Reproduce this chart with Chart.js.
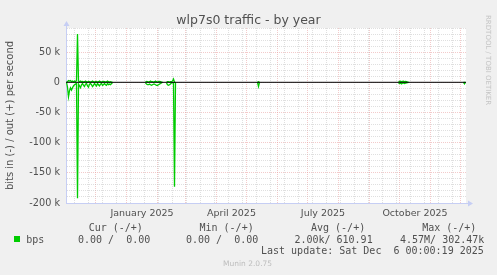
<!DOCTYPE html>
<html><head><meta charset="utf-8">
<script src="https://cdn.jsdelivr.net/npm/chart.js@4.4.1/dist/chart.umd.min.js"></script>
<style>
html,body{margin:0;padding:0;background:#f0f0f0;}
#wrap{position:relative;width:497px;height:275px;overflow:hidden;background:#f0f0f0;}
canvas{position:absolute;left:0;top:0;}
.m{position:absolute;white-space:pre;font-family:"DejaVu Sans Mono",monospace;font-size:10px;line-height:10px;color:#505050;}
#title{position:absolute;left:0;width:497px;top:12.2px;text-align:center;font-family:"DejaVu Sans",sans-serif;font-size:12.5px;line-height:15px;color:#505050;}
#rrd{position:absolute;left:484px;top:15px;writing-mode:vertical-rl;font-family:"DejaVu Sans",sans-serif;font-size:7px;line-height:7px;color:#c4c4c4;white-space:pre;}
#munin{position:absolute;left:223px;top:260.2px;font-family:"DejaVu Sans",sans-serif;font-size:7.5px;line-height:7.5px;color:#bdbdbd;white-space:pre;}
#swatch{position:absolute;left:14px;top:236px;width:6px;height:6px;background:#00cc00;}
</style></head>
<body>
<div id="wrap">
<canvas id="c" width="497" height="275"></canvas>
<div id="title">wlp7s0 traffic - by year</div>
<div id="rrd">RRDTOOL / TOBI OETIKER</div>
<div id="swatch"></div>
<div class="m" style="left:88.7px;top:223.1px">Cur (-/+)</div>
<div class="m" style="left:199.5px;top:223.1px">Min (-/+)</div>
<div class="m" style="left:311px;top:223.1px">Avg (-/+)</div>
<div class="m" style="left:422.2px;top:223.1px">Max (-/+)</div>
<div class="m" style="left:26.2px;top:234.5px">bps</div>
<div class="m" style="left:78px;top:234.5px">0.00 /  0.00</div>
<div class="m" style="left:186px;top:234.5px">0.00 /  0.00</div>
<div class="m" style="left:294.4px;top:234.5px">2.00k/ 610.91</div>
<div class="m" style="left:400px;top:234.5px">4.57M/ 302.47k</div>
<div class="m" style="left:261px;top:246.1px">Last update: Sat Dec  6 00:00:19 2025</div>
<div id="munin">Munin 2.0.75</div>
</div>
<script>
// day offsets relative to 1 Jan 2025
const days = [
  -60,-59,-58,-57,-56,-55,-54,-53,-52,-51,-50,-49,-48,-47,-46,-45,-44,-43,-42,-41,-40,-39,-38,-37,-36,-35,-34,-33,-32,-31,-30,-29,-28,-27,-26,-25,-24,-23,-22,-21,-20,-19,-18,-17,-16,-15,-14,
  -13,
  19,20,21,22,23,24,25,26,27,28,29,30,31,32,33,34,35,36,
  37,
  40,41,42,43,44,45,46,47,48,49,
  50,
  131,132,133,
  134,
  272,273,274,275,276,277,278,279,280,281,282,
  283,
  337,338,339
];
const bpsIn = [
  0,-8000,-24000,-14000,-9000,-13000,-9000,-6000,-4000,-3000,-2000,-192000,-3000,-6000,-9000,-4000,-2000,-5000,-7000,-3000,-2000,-6000,-8000,-3000,-2000,-4000,-7000,-5000,-2000,-4000,-6000,-2000,-4000,-6000,-3000,-2000,-5000,-4000,-2000,-4000,-5000,-2000,-4000,-3000,-4000,-2000,-1000,
  null,
  -1000,-3000,-4000,-4000,-3000,-4000,-5000,-4000,-3000,-3000,-4000,-5000,-5000,-4000,-3000,-2000,-1000,0,
  null,
  -1000,-4000,-5000,-4000,-3000,-1000,-500,-1000,-173000,0,
  null,
  0,-7000,0,
  null,
  -1000,-2000,-1000,-2500,-1500,-1000,-2000,-1500,-1000,-500,0,
  null,
  0,-2500,0
];
const bpsOut = [
  0,1000,3000,2000,3000,1000,2000,1000,2000,1000,3000,80000,2000,1000,2000,1000,1500,500,1000,2000,1000,500,1500,1000,500,1000,2000,1000,500,1000,1500,500,1000,2000,1000,500,1000,1500,1000,500,1000,2000,1000,500,1000,500,0,
  null,
  500,1500,1000,500,1000,2000,1000,1000,500,1000,2000,1000,500,1000,1500,1000,500,0,
  null,
  500,1000,1000,500,1000,1000,2000,5500,0,0,
  null,
  0,1000,0,
  null,
  1000,1500,2000,1000,1500,2000,1000,1500,1000,500,0,
  null,
  0,0,0
];
const xMin = -60.5, xMax = 339.5;          // 1 Nov 2024 .. 6 Dec 2025
const yMin = -200000, yMax = 90000, yStep = 10000;
const monthStarts = [-31,0,31,59,90,120,151,181,212,243,273,304,334];
const minorDays = [-52,-38,-24,-10,4,18,32,46,60,74,88,102,116,130,144,158,172,186,200,214,228,242,256,270,284,298,312,326];
const labelDays = [15.5,105,196.5,288.5];
const labelTexts = ['January 2025','April 2025','July 2025','October 2025'];
const yLabelValues = [50000,0,-50000,-100000,-150000,-200000];
const yLabelTexts = ['50 k','0','-50 k','-100 k','-150 k','-200 k'];

const GREEN = '#00cc00';
const MAJOR = 'rgba(232,150,150,0.5)';
const MINOR = 'rgba(185,185,185,0.45)';
const AXIS = '#c6cef4';

const framePlugin = {
  id: 'frame',
  beforeDraw(chart) {
    const {ctx, chartArea: a} = chart;
    ctx.save();
    ctx.fillStyle = '#ffffff';
    ctx.fillRect(a.left, a.top, a.right - a.left, a.bottom - a.top);
    ctx.restore();
  },
  afterDraw(chart) {
    const {ctx, chartArea: a} = chart;
    ctx.save();
    ctx.strokeStyle = AXIS; ctx.fillStyle = AXIS; ctx.lineWidth = 1;
    const lx = a.left + 0.5, by = a.bottom + 0.5;
    ctx.beginPath(); ctx.moveTo(lx, a.top); ctx.lineTo(lx, a.top - 3); ctx.stroke();
    ctx.beginPath(); ctx.moveTo(lx - 3, a.top - 2); ctx.lineTo(lx + 3, a.top - 2); ctx.lineTo(lx, a.top - 7); ctx.closePath(); ctx.fill();
    ctx.beginPath(); ctx.moveTo(a.right, by); ctx.lineTo(a.right + 3, by); ctx.stroke();
    ctx.beginPath(); ctx.moveTo(a.right + 2, by - 3); ctx.lineTo(a.right + 2, by + 3); ctx.lineTo(a.right + 7, by); ctx.closePath(); ctx.fill();
    ctx.restore();
  }
};

const inData = days.map((d, i) => ({x: d, y: bpsIn[i]}));
const outData = days.map((d, i) => ({x: d, y: bpsOut[i]}));

new Chart(document.getElementById('c'), {
  type: 'line',
  data: {
    datasets: [
      {label: 'zero', data: [{x: xMin, y: 0}, {x: xMax, y: 0}], borderColor: '#000000', borderWidth: 1, pointRadius: 0, order: 0},
      {label: 'bps in', data: inData, borderColor: GREEN, borderWidth: 1.3, pointRadius: 0, tension: 0, spanGaps: false, order: 1},
      {label: 'bps out', data: outData, borderColor: GREEN, borderWidth: 1.3, pointRadius: 0, tension: 0, spanGaps: false, order: 1}
    ]
  },
  options: {
    responsive: false, animation: false, devicePixelRatio: 1,
    layout: {padding: {top: 28, right: 31, bottom: 50, left: 0}, autoPadding: false},
    plugins: {legend: {display: false}, tooltip: {enabled: false}, title: {display: false}},
    events: [],
    scales: {
      x: {
        type: 'linear', min: xMin, max: xMax, bounds: 'data',
        afterBuildTicks: s => {
          const vals = [...monthStarts, ...minorDays, ...labelDays].sort((a, b) => a - b);
          s.ticks = vals.map(v => ({value: v}));
        },
        afterFit: s => { s.height = 22; s.paddingLeft = 0; s.paddingRight = 0; },
        ticks: {
          autoSkip: false, maxRotation: 0, minRotation: 0, padding: 5, color: '#505050',
          font: {family: 'DejaVu Sans', size: 9.5},
          callback: v => { const i = labelDays.indexOf(v); return i >= 0 ? labelTexts[i] : ''; }
        },
        grid: {
          drawTicks: false, lineWidth: 1,
          color: ctx => monthStarts.includes(ctx.tick.value) ? MAJOR : (minorDays.includes(ctx.tick.value) ? MINOR : 'rgba(0,0,0,0)')
        },
        border: {color: AXIS, width: 1, dash: [1, 1]}
      },
      y: {
        type: 'linear', min: yMin, max: yMax, bounds: 'data',
        afterBuildTicks: s => {
          const t = [];
          for (let v = yMin; v <= yMax; v += yStep) t.push({value: v});
          s.ticks = t;
        },
        afterFit: s => { s.width = 66; s.paddingTop = 0; s.paddingBottom = 0; },
        ticks: {
          autoSkip: false, padding: 6, color: '#505050',
          font: {family: 'DejaVu Sans', size: 9.7},
          callback: v => { const i = yLabelValues.indexOf(v); return i >= 0 ? yLabelTexts[i] : ''; }
        },
        grid: {
          drawTicks: false, lineWidth: 1,
          color: ctx => ctx.tick.value === yMin ? 'rgba(0,0,0,0)' : (ctx.tick.value % 50000 === 0 ? MAJOR : MINOR)
        },
        border: {color: AXIS, width: 1, dash: [1, 1]},
        title: {display: true, text: 'bits in (-) / out (+) per second', color: '#505050',
          font: {family: 'DejaVu Sans', size: 10}, padding: {top: 4, bottom: 0}}
      }
    }
  },
  plugins: [framePlugin]
});
</script>
</body></html>
